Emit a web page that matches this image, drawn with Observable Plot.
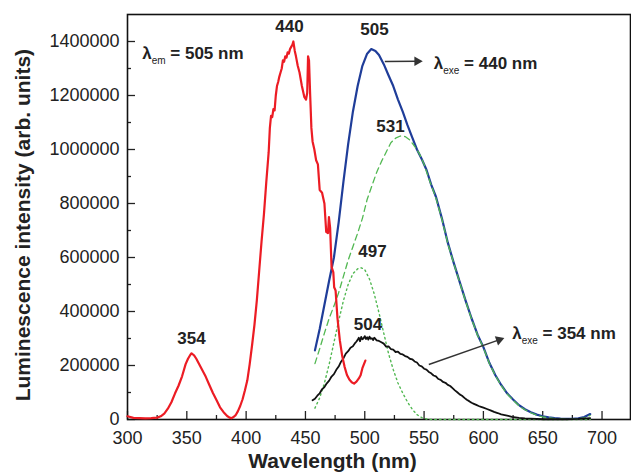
<!DOCTYPE html>
<html><head><meta charset="utf-8">
<script src="https://cdn.jsdelivr.net/npm/d3@7"></script>
<script src="https://cdn.jsdelivr.net/npm/@observablehq/plot@0.6"></script>
<style>body{margin:0;background:#fff}</style>
</head><body><div id="chart"></div>
<script>
// ---- data ----
// Excitation spectrum (λem = 505 nm), red
const redWl = [300,305,310,315,320,325,328,331,334,337,340,343,346,349,351,353,354,356,358,360,363,366,369,372,375,378,381,384,386,387.6,389,391,393,395,397,399,401,403,405,407,409,411,413,415,417,419,420,421,422,423,424,425,426,427,428,429,430,431,432,433,434,435,436,437,438,439,439.8,441,442,443.5,445,447,449,450.5,451.5,452.2,453,454,455,456,457.5,459,460.5,462,464,466,467.5,469,469.8,470.8,472,473.5,474.2,475.4,477,479,481,483,485,487,489,491,493,495,496.5,498,500.5];
const redVal = [12000,6000,5000,4000,5000,7000,12000,22000,40000,64000,96000,125000,160000,205000,225000,240000,245000,238000,225000,208000,183000,158000,128000,98000,72000,45000,27000,13000,7000,5000,8000,15000,30000,50000,75000,108000,145000,205000,275000,350000,440000,550000,660000,760000,880000,990000,1080000,1125000,1120000,1150000,1145000,1200000,1235000,1250000,1270000,1285000,1300000,1330000,1325000,1345000,1340000,1360000,1355000,1372000,1380000,1388000,1400000,1365000,1345000,1310000,1285000,1235000,1195000,1185000,1210000,1345000,1330000,1200000,1080000,1030000,1000000,960000,945000,850000,840000,800000,695000,690000,750000,710000,565000,545000,490000,478000,375000,293000,235000,195000,165000,148000,138000,133000,140000,152000,164000,190000,218000];
// Emission (λexe = 440 nm), blue
const blueWl = [458,462,466,470,474,478,482,486,490,494,498,502,505.5,509,512,516,520,524,528,532,536,540,544,548,552,556,560,565,570,575,580,585,590,595,600,605,610,615,620,625,630,635,640,645,650,655,660,665,670,675,680,685,690];
const blueVal = [256000,335000,425000,515000,600000,730000,880000,1020000,1140000,1235000,1310000,1355000,1372000,1365000,1350000,1316000,1275000,1235000,1185000,1140000,1090000,1045000,1000000,965000,925000,870000,825000,745000,655000,580000,510000,440000,375000,315000,268000,210000,165000,128000,97000,74000,53000,38000,27000,18000,12000,8000,5000,3000,2000,2000,4000,9000,20000];
// Gaussian component peaking at 531 nm, green dashed
const dashWl = [458,462,466,470,474,478,482,486,490,494,498,502,506,510,514,518,522,526,530,534,538,542,546,550,555,560,565,570,575,580,585,590,595,600,605,610,615,620,625,630,635,640,645,650,655,660,665,670,675,680,685,690];
const dashVal = [207000,262000,320000,375000,420000,470000,530000,590000,640000,690000,745000,815000,865000,915000,955000,990000,1025000,1042000,1050000,1048000,1035000,1012000,985000,945000,880000,820000,742000,652000,578000,508000,438000,373000,313000,266000,208000,163000,126000,95000,72000,51000,36000,25000,16000,10000,6000,3000,2000,1000,1000,2000,6000,15000];
// Gaussian component peaking at 497 nm, green dotted
const dotWl = [458,462,466,470,474,478,482,486,490,494,497,500,504,508,512,516,520,524,528,532,536,540,544,548,552,556,560,570,580,590,600,610,620,630,640,650,660,670,680,690];
const dotVal = [42000,80000,135000,205000,285000,365000,440000,500000,540000,558000,562000,555000,520000,465000,395000,320000,245000,185000,135000,98000,65000,38000,18000,7000,2000,0,0,0,0,0,0,0,0,0,0,0,0,0,0,0];
// Emission (λexe = 354 nm), black
const blackWl = [456,458,460,462,464,466,468,470,472,474,476,478,480,482,484,486,488,490,492,493,494,495,496,497,498,499,500,501,502,503,504,505,506,507,508,510,512,514,516,518,520,522,524,526,528,530,532,534,536,538,540,542,544,546,548,550,552,554,556,558,560,562,564,566,568,570,572,574,576,578,580,582,584,586,588,590,592,594,596,598,600,603,606,609,612,615,618,621,624,627,630,635,640,645,650,660,670,680,690];
const blackVal = [71000,77000,88000,97000,112000,120000,134000,144000,159000,168000,184000,196000,214000,226000,244000,253000,266000,271000,284000,289000,295000,303000,290000,306000,297000,301000,309000,298000,305000,296000,307000,299000,301000,294000,303000,293000,291000,286000,281000,270000,271000,261000,259000,250000,251000,243000,241000,235000,232000,225000,223000,215000,211000,200000,197000,188000,185000,176000,171000,163000,160000,150000,147000,139000,136000,128000,124000,116000,108000,101000,93000,88000,80000,73000,68000,62000,58000,54000,50000,47000,44000,39000,34000,28000,24000,19000,16000,13000,10000,8000,6000,4000,3000,2000,1000,1000,1000,2000,5000];

// ticks
const xMajor = [300,350,400,450,500,550,600,650,700];
const xMinor = [325,375,425,475,525,575,625,675];
const yMajor = [0,200000,400000,600000,800000,1000000,1200000,1400000];
const yMinor = [100000,300000,500000,700000,900000,1100000,1300000];

// annotations
const peakText = ["440","505","531","497","504","354"];
const peakX = [436.6,508.2,521.7,506.5,502.7,353.9];
const peakY = [1456000,1444000,1085000,622000,352000,298000];
const lamSub = ["em","exe","exe"];
const lamRest = [" = 505 nm"," = 440 nm"," = 354 nm"];
const lamX = [312.4,558.2,624.3];
const lamY = [1356000,1318000,318500];
const arrowX1 = [516.9,554], arrowY1 = [1326000,203700];
const arrowX2 = [548.4,617.2], arrowY2 = [1327000,301000];
const xLabel = "Wavelength (nm)";
const yLabel = "Luminescence intensity (arb. units)";

// ---- layout ----
const W = 631, H = 474, mL = 127, mT = 14, mR = 1, mB = 55;
const xDomain = [300, 724], yDomain = [0, 1500000];
const FONT = "'Liberation Sans', Arial, Helvetica, sans-serif";

const rows = (wl, v) => wl.map((w, i) => ({wl: w, v: v[i]}));
const red = rows(redWl, redVal), blue = rows(blueWl, blueVal), dash = rows(dashWl, dashVal),
      dot = rows(dotWl, dotVal), black = rows(blackWl, blackVal);
const peaks = peakText.map((t, i) => ({t, x: peakX[i], y: peakY[i]}));
const lams = lamSub.map((s, i) => ({sub: s, rest: lamRest[i], x: lamX[i], y: lamY[i]}));

// arrowheads: compute orientation in pixel space with the same domain/range as the plot
const xs = d3.scaleLinear(xDomain, [mL, W - mR]);
const ys = d3.scaleLinear(yDomain, [H - mB, mT]);
const arrows = arrowX1.map((x1, i) => {
  const px1 = xs(x1), py1 = ys(arrowY1[i]), px2 = xs(arrowX2[i]), py2 = ys(arrowY2[i]);
  const L = Math.hypot(px2 - px1, py2 - py1), ux = (px2 - px1) / L, uy = (py2 - py1) / L;
  const back = 5;
  const bx = px2 - ux * back, by = py2 - uy * back;
  return {x1, y1: arrowY1[i], hx: xs.invert(bx), hy: ys.invert(by),
          angle: Math.atan2(ux, -uy) * 180 / Math.PI};
});

const RED = "#ec1c24", BLUE = "#1f3d99", GREEN = "#52b852", BLACK = "#111";

const chart = Plot.plot({
  width: W, height: H, marginLeft: mL, marginTop: mT, marginRight: mR, marginBottom: mB,
  x: {domain: xDomain}, y: {domain: yDomain},
  style: {fontFamily: FONT, background: "#fff", color: "#222", overflow: "visible"},
  marks: [
    // ticks pointing inward
    Plot.axisX({ticks: xMajor, tickSize: 8, dy: -8, tickFormat: () => "", label: null, strokeWidth: 1.3}),
    Plot.axisX({ticks: xMinor, tickSize: 4, dy: -4, tickFormat: () => "", label: null, strokeWidth: 1.3}),
    Plot.axisX({ticks: xMajor, tickSize: 0, tickPadding: 12, tickFormat: d => String(d), fontSize: 18, label: null}),
    Plot.axisY({ticks: yMajor, tickSize: 8, dx: 8, tickFormat: () => "", label: null, strokeWidth: 1.3}),
    Plot.axisY({ticks: yMinor, tickSize: 4, dx: 4, tickFormat: () => "", label: null, strokeWidth: 1.3}),
    Plot.axisY({ticks: yMajor, tickSize: 0, tickPadding: 8, tickFormat: d => String(d), fontSize: 18, label: null}),
    Plot.frame({stroke: "#111", strokeWidth: 1.6}),
    // curves
    Plot.line(blue, {x: "wl", y: "v", stroke: BLUE, strokeWidth: 2.2}),
    Plot.line(dash, {x: "wl", y: "v", stroke: GREEN, strokeWidth: 1.3, strokeDasharray: "6,4"}),
    Plot.line(dot, {x: "wl", y: "v", stroke: GREEN, strokeWidth: 1.4, strokeDasharray: "1.5,3.2"}),
    Plot.line(black, {x: "wl", y: "v", stroke: BLACK, strokeWidth: 1.8}),
    Plot.line(red, {x: "wl", y: "v", stroke: RED, strokeWidth: 2.2}),
    // arrows
    Plot.link(arrows, {x1: "x1", y1: "y1", x2: "hx", y2: "hy", stroke: "#333", strokeWidth: 1.4}),
    Plot.dot(arrows, {x: "hx", y: "hy", symbol: "triangle", r: 3.6, fill: "#333", stroke: "none", rotate: "angle"}),
    // labels
    Plot.text(peaks, {x: "x", y: "y", text: "t", fontSize: 17, fontWeight: "bold", fill: "#222", textAnchor: "middle", lineAnchor: "middle"}),
    Plot.text(lams, {x: "x", y: "y", text: d => "λ" + d.sub + d.rest, fontSize: 17, fontWeight: "bold", fill: "#222", textAnchor: "start", lineAnchor: "middle"}),
    Plot.text([xLabel], {x: () => 472.8, frameAnchor: "bottom", dy: 42, text: d => d, fontSize: 21, fontWeight: "bold", fill: "#222", textAnchor: "middle", lineAnchor: "middle"}),
    Plot.text([yLabel], {y: () => 720000, frameAnchor: "left", dx: -104, rotate: -90, text: d => d, fontSize: 21, fontWeight: "bold", fill: "#222", textAnchor: "middle", lineAnchor: "middle"})
  ]
});

// subscripts for the λ labels
const NS = "http://www.w3.org/2000/svg";
chart.querySelectorAll("text").forEach(t => {
  const d = lams.find(r => "λ" + r.sub + r.rest === t.textContent);
  if (!d) return;
  t.textContent = "";
  const a = document.createElementNS(NS, "tspan"); a.textContent = "λ";
  const b = document.createElementNS(NS, "tspan"); b.textContent = d.sub;
  b.setAttribute("font-size", "10"); b.setAttribute("font-weight", "normal"); b.setAttribute("dy", "5");
  const c = document.createElementNS(NS, "tspan"); c.textContent = d.rest; c.setAttribute("dy", "-5");
  t.append(a, b, c);
});

document.getElementById("chart").append(chart);
</script>
</body></html>
